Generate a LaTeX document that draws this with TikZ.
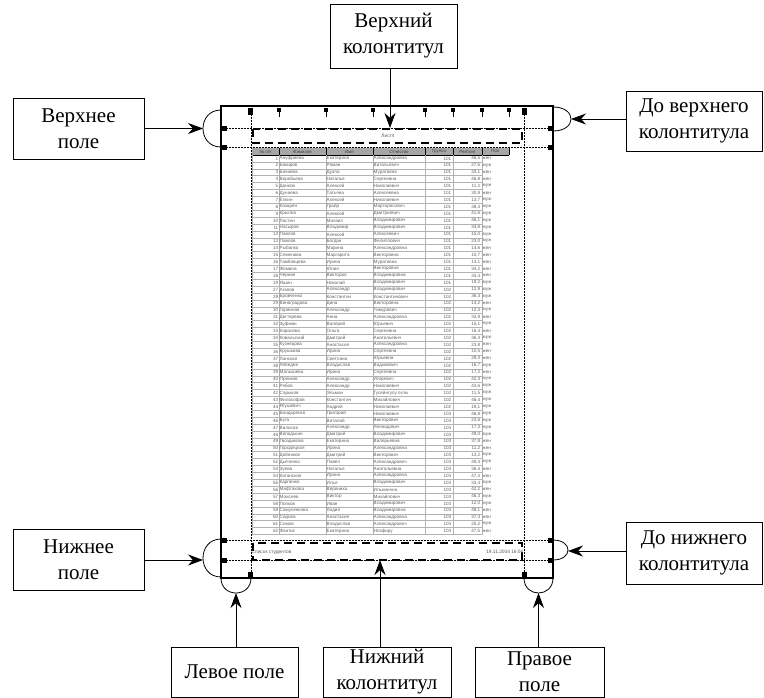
\documentclass[tikz,border=0pt]{standalone}
\usepackage{fontspec}
\setmainfont{Liberation Serif}
\newfontfamily\tabfont{Liberation Sans}
\usetikzlibrary{arrows.meta}
\begin{document}
\begin{tikzpicture}[x=1pt,y=-1pt,
 lbl/.style={draw, line width=0.8pt, align=center, inner sep=0pt, font=\fontsize{21}{26}\selectfont},
 arr/.style={line width=0.8pt, -{Stealth[length=15pt,width=11pt]}},
 mline/.style={densely dotted, line width=0.5pt},
 hfbox/.style={line width=1.8pt, dash pattern=on 8pt off 5pt},
 gridl/.style={line width=0.5pt, draw=black!30},
 cell/.style={font=\tabfont\fontsize{4.6}{5}\selectfont, text=black!62, inner sep=0.5pt},
 hcell/.style={font=\tabfont\fontsize{4.4}{5}\selectfont, text=black!75, inner sep=0pt},
 small/.style={font=\tabfont\fontsize{4.8}{5}\selectfont, text=black!65, inner sep=0.5pt},
 arcl/.style={line width=0.8pt},
 ]
\useasboundingbox (0,0) rectangle (764,697);

% ---------- page ----------
\draw[line width=1.3pt] (221,106) rectangle (553,578);
% margin lines
\draw[mline] (221,128) -- (553,128);
\draw[mline] (221,147) -- (553,147);
\draw[mline] (221,540) -- (553,540);
\draw[mline] (221,560) -- (553,560);
\draw[mline] (251,106) -- (251,578);
\draw[mline] (524,106) -- (524,578);

% ---------- table ----------
\fill[black!35] (252,148) rectangle (509,155);
\foreach \x in {279,326,373,425,453,482,509}
  \draw[line width=0.6pt] (\x,148) -- (\x,155);
\draw[line width=0.6pt] (252,155) -- (509,155);
\node[hcell] (h1) at (265.5,151.5) {№ п/п};
\node[hcell] (h2) at (302.5,151.5) {Фамилия};
\node[hcell] (h3) at (349.5,151.5) {Имя};
\node[hcell] (h4) at (399,151.5) {Отчество};
\node[hcell] (h5) at (439,151.5) {Группа};
\node[hcell] (h6) at (467.5,151.5) {Рейтинг};
\node[hcell] (h7) at (495.5,151.5) {Пол};

\foreach \k in {1,...,55}
  \draw[gridl] (252,{155+\k*6.9}) -- (482,{155+\k*6.9});
\foreach \x in {252,279,326,373,425,453,482}
  \draw[gridl] (\x,155) -- (\x,534.5);

\foreach \n/\f/\i/\o/\g/\r/\s [count=\k] in {
1/Ануфриева/Екатерина/Александровна/101/{46,5}/жен,
2/Бакиров/Роман/Витальевич/101/{27,5}/муж,
3/Бачиева/Дуэла/Муратовна/101/{33,1}/жен,
4/Воробьева/Наталья/Сергеевна/101/{46,8}/жен,
5/Донков/Алексей/Николаевич/101/{11,2}/муж,
6/Дунаева/Татьяна/Алексеевна/101/{30,8}/жен,
7/Ёлкин/Алексей/Николаевич/101/{13,7}/муж,
8/Казарян/Грайр/Мартиросович/101/{38,3}/муж,
9/Крылов/Алексей/Дмитриевич/101/{41,6}/муж,
10/Ластин/Михаил/Владимирович/101/{46,1}/муж,
11/Насыров/Владимир/Владимирович/101/{33,8}/муж,
12/Павлов/Алексей/Алексеевич/101/{15,0}/муж,
13/Павлов/Богдан/Филиппович/101/{23,0}/муж,
14/Рыбалко/Марина/Александровна/101/{14,6}/жен,
15/Семенова/Маргарита/Викторовна/101/{10,7}/жен,
16/Тамбовцева/Ирина/Муратовна/101/{13,1}/жен,
17/Фомина/Юлия/Викторовна/101/{34,2}/жен,
18/Черная/Виктория/Владимировна/101/{34,4}/жен,
19/Яшин/Николай/Владимирович/101/{19,2}/муж,
27/Агапов/Александр/Владимирович/102/{12,9}/муж,
28/Бровченко/Константин/Константинович/102/{36,3}/муж,
29/Виноградова/Дина/Викторовна/102/{14,2}/жен,
30/Горяинов/Александр/Тимурович/102/{12,4}/муж,
31/Дегтярева/Анна/Александровна/102/{33,9}/жен,
32/Зуфман/Валерий/Юрьевич/102/{15,1}/муж,
33/Карасева/Ольга/Сергеевна/102/{16,4}/жен,
34/Ковальский/Дмитрий/Анатольевич/102/{36,3}/муж,
35/Кузнецова/Анастасия/Александровна/102/{23,8}/жен,
36/Крушкова/Ирина/Сергеевна/102/{10,5}/жен,
37/Ланская/Светлана/Юрьевна/102/{29,3}/жен,
38/Лебедев/Владислав/Вадимович/102/{16,7}/муж,
39/Малышева/Ирина/Сергеевна/102/{17,2}/жен,
40/Прянков/Александр/Игоревич/102/{42,3}/муж,
41/Рябов/Александр/Николаевич/102/{43,6}/муж,
42/Сарыков/Эльман/Гусейнгулу оглы/102/{11,5}/муж,
43/Философов/Константин/Михайлович/102/{46,4}/муж,
44/Ягушевич/Андрей/Николаевич/102/{19,1}/муж,
45/Бондаренко/Григорий/Николаевич/103/{46,8}/муж,
46/Буга/Виталий/Викторович/103/{23,6}/муж,
47/Вилисов/Александр/Леонидович/103/{17,3}/муж,
48/Володькин/Дмитрий/Владимирович/103/{49,0}/муж,
49/Гвоздикова/Екатерина/Валерьевна/103/{37,8}/жен,
50/Городецкая/Ирина/Александровна/103/{11,2}/жен,
51/Дойников/Дмитрий/Викторович/103/{13,2}/муж,
52/Дьяченко/Павел/Александрович/103/{49,4}/муж,
53/Зуева/Наталья/Анатольевна/103/{36,4}/жен,
54/Катанская/Ирина/Александровна/103/{47,4}/жен,
55/Карпенко/Илья/Владимирович/103/{33,4}/муж,
56/Мифтахова/Вероника/Ильинична/103/{42,2}/жен,
57/Моисеев/Виктор/Михайлович/103/{46,3}/муж,
58/Попков/Иван/Владимирович/103/{12,0}/муж,
59/Самусенкова/Лидия/Владимировна/103/{48,1}/жен,
60/Седова/Анастасия/Александровна/103/{37,3}/жен,
61/Сомов/Владислав/Александрович/103/{25,2}/муж,
62/Фантис/Екатерина/Нозфиру/103/{47,5}/жен}
{
  \pgfmathsetmacro\yy{155+(\k-0.5)*6.9}
  \node[cell,anchor=east] (n\k) at (279,\yy) {\n};
  \node[cell,anchor=west] (f\k) at (279,\yy) {\f};
  \node[cell,anchor=west] (i\k) at (326,\yy) {\i};
  \node[cell,anchor=west] (o\k) at (373,\yy) {\o};
  \node[cell,anchor=east] (g\k) at (452,\yy) {\g};
  \node[cell,anchor=east] (r\k) at (481,\yy) {\r};
  \node[cell,anchor=west] (s\k) at (482,\yy) {\s};
}

% ---------- header / footer ----------
\draw[hfbox] (253,129) rectangle (522,143);
\draw[hfbox] (253,543) rectangle (522,560);
\node[small] (htext) at (388,135.5) {Лист4};
\node[small,anchor=west] (ftl) at (251,552) {Список студентов};
\node[small,anchor=east] (ftr) at (524,552) {19.11.2004 16:06};

% ---------- handles ----------
\fill (247.5,108) rectangle (252.5,114.5);
\fill (521.5,108) rectangle (526.5,114.5);
\foreach \x in {279,326,373,425,453,482,509} {
  \fill (\x-2,108) rectangle (\x+2,112);
  \draw[line width=0.6pt] (\x,112) -- (\x,117);
}
\foreach \y in {128,147,540,560} {
  \fill (221,\y-2.5) rectangle (226.5,\y+2.5);
  \fill (547.5,\y-2.5) rectangle (553,\y+2.5);
}
\fill (248,572) rectangle (253,578);
\fill (522,572) rectangle (527,578);

% ---------- brackets ----------
\draw[arcl] (221,110) .. controls (197,110) and (197,147) .. (221,147);
\draw[arcl] (553,107) .. controls (577,107) and (577,131) .. (553,131);
\draw[arcl] (221,539) .. controls (197,539) and (197,577) .. (221,577);
\draw[arcl] (553,540) .. controls (573,540) and (573,560) .. (553,560);
\draw[arcl] (221,578) .. controls (221,598) and (251,598) .. (251,578);
\draw[arcl] (524,578) .. controls (524,598) and (553,598) .. (553,578);

\coordinate (tA) at (390,128);
\coordinate (tlA) at (203,128.5);
\coordinate (trA) at (571,119);
\coordinate (blA) at (203,560);
\coordinate (brA) at (568,551);
\coordinate (bA) at (236,593);
\coordinate (bfA) at (380,560);
\coordinate (bRA) at (538.5,593);

% ---------- labels ----------
\node[lbl, minimum width=127pt, minimum height=64pt] (vk) at (393.5,36) {Верхний\\колонтитул};
\node[lbl, minimum width=131pt, minimum height=61pt] (vp) at (78.5,128.5) {Верхнее\\поле};
\node[lbl, minimum width=136pt, minimum height=60pt] (dvk) at (694,121) {До верхнего\\колонтитула};
\node[lbl, minimum width=131pt, minimum height=61pt] (np) at (78.5,560) {Нижнее\\поле};
\node[lbl, minimum width=136pt, minimum height=62pt] (dnk) at (694,553) {До нижнего\\колонтитула};
\node[lbl, minimum width=127pt, minimum height=50pt] (lp) at (234.5,672) {Левое поле};
\node[lbl, minimum width=128pt, minimum height=50pt] (nk) at (387,672) {Нижний\\колонтитул};
\node[lbl, minimum width=129pt, minimum height=50pt] (pp) at (539.5,672) {Правое\\поле};

% ---------- arrows ----------
\draw[arr] (vk.south -| tA) -- (tA);
\draw[arr] (vp.east |- tlA) -- (tlA);
\draw[arr] (dvk.west |- trA) -- (trA);
\draw[arr] (np.east |- blA) -- (blA);
\draw[arr] (dnk.west |- brA) -- (brA);
\draw[arr] (lp.north -| bA) -- (bA);
\draw[arr] (nk.north -| bfA) -- (bfA);
\draw[arr] (pp.north -| bRA) -- (bRA);
\end{tikzpicture}
\end{document}
